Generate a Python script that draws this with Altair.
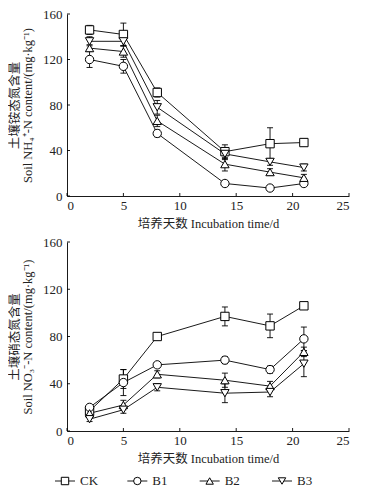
import altair as alt
import pandas as pd

# ---- data ----
days = [2, 5, 8, 14, 18, 21]
series = ["CK", "B1", "B2", "B3"]

nh4_ck = [146, 142, 91, 39, 46, 47]
nh4_b1 = [120, 114, 55, 11, 7, 11]
nh4_b2 = [130, 127, 66, 28, 21, 16]
nh4_b3 = [136, 136, 78, 37, 30, 25]
nh4_ck_err = [4, 10, 4, 6, 14, 3]
nh4_b1_err = [7, 6, 3, 2, 2, 2]
nh4_b2_err = [3, 5, 5, 6, 3, 3]
nh4_b3_err = [4, 4, 6, 5, 3, 3]

no3_ck = [17, 44, 80, 97, 89, 106]
no3_b1 = [20, 41, 56, 60, 52, 78]
no3_b2 = [15, 22, 48, 43, 38, 67]
no3_b3 = [10, 18, 37, 32, 33, 57]
no3_ck_err = [2, 8, 2, 8, 10, 2]
no3_b1_err = [2, 11, 2, 3, 3, 10]
no3_b2_err = [2, 4, 3, 6, 4, 4]
no3_b3_err = [2, 3, 3, 8, 4, 11]

x_ticks = [0, 5, 10, 15, 20, 25]
y_ticks = [0, 40, 80, 120, 160]

shapes = ["square", "circle", "triangle-up", "triangle-down"]

FONT = "Liberation Serif, Noto Sans CJK SC"
W = 282


def long_df(vals, errs):
    rows = []
    for s, v, e in zip(series, vals, errs):
        for d, vv, ee in zip(days, v, e):
            rows.append({"day": d, "series": s, "value": vv,
                         "lo": vv - ee, "hi": vv + ee})
    return pd.DataFrame(rows)


def panel(df, ytitle, H):
    xs = alt.Scale(domain=[0, 25], nice=False)
    ys = alt.Scale(domain=[0, 160], nice=False)
    xax = alt.Axis(values=x_ticks, title="培养天数 Incubation time/d",
                   ticks=False, grid=False, labelPadding=3, titlePadding=5)
    yax = alt.Axis(values=y_ticks, title=ytitle, ticks=False, grid=False,
                   labelPadding=5, titlePadding=8)
    base = alt.Chart(df)
    x = alt.X("day:Q", scale=xs, axis=xax)
    y = alt.Y("value:Q", scale=ys, axis=yax)

    stems = base.mark_rule(color="black", strokeWidth=0.9).encode(
        x=alt.X("day:Q", scale=xs), y=alt.Y("lo:Q", scale=ys), y2="hi:Q")
    cap_lo = base.mark_rule(color="black", strokeWidth=0.9, xOffset=-3,
                            x2Offset=3).encode(
        x=alt.X("day:Q", scale=xs), x2="day:Q", y=alt.Y("lo:Q", scale=ys))
    cap_hi = base.mark_rule(color="black", strokeWidth=0.9, xOffset=-3,
                            x2Offset=3).encode(
        x=alt.X("day:Q", scale=xs), x2="day:Q", y=alt.Y("hi:Q", scale=ys))
    lines = base.mark_line(color="black", strokeWidth=0.9).encode(
        x=x, y=y, detail="series:N")
    pts = base.mark_point(filled=True, fill="white", stroke="black",
                          strokeWidth=1, size=70, opacity=1).encode(
        x=x, y=y,
        shape=alt.Shape("series:N", scale=alt.Scale(domain=series, range=shapes),
                        legend=None))

    yt = pd.DataFrame({"v": y_ticks})
    xt = pd.DataFrame({"v": x_ticks})
    ytick = alt.Chart(yt).mark_rule(color="black", strokeWidth=0.9).encode(
        y=alt.Y("v:Q", scale=ys), x=alt.value(0), x2=alt.value(3))
    xtick = alt.Chart(xt).mark_rule(color="black", strokeWidth=0.9).encode(
        x=alt.X("v:Q", scale=xs), y=alt.value(H), y2=alt.value(H - 3))

    return alt.layer(stems, cap_lo, cap_hi, lines, pts, ytick, xtick).properties(
        width=W, height=H)


top = panel(long_df([nh4_ck, nh4_b1, nh4_b2, nh4_b3],
                    [nh4_ck_err, nh4_b1_err, nh4_b2_err, nh4_b3_err]),
            ["土壤铵态氮含量", "Soil NH₄⁺-N content/(mg·kg⁻¹)"], 182)
bottom = panel(long_df([no3_ck, no3_b1, no3_b2, no3_b3],
                       [no3_ck_err, no3_b1_err, no3_b2_err, no3_b3_err]),
               ["土壤硝态氮含量", "Soil NO₃⁻-N content/(mg·kg⁻¹)"], 189)

leg_df = pd.DataFrame({"i": list(range(len(series))), "series": series})
lx = alt.Scale(domain=[0, 3], range=[-2, 215])
lbase = alt.Chart(leg_df)
lrule = lbase.mark_rule(color="black", strokeWidth=0.9, xOffset=-10,
                        x2Offset=10).encode(
    x=alt.X("i:Q", scale=lx, axis=None), x2="i:Q", y=alt.value(10))
lpts = lbase.mark_point(filled=True, fill="white", stroke="black",
                        strokeWidth=1, size=55, opacity=1).encode(
    x=alt.X("i:Q", scale=lx, axis=None), y=alt.value(10),
    shape=alt.Shape("series:N", scale=alt.Scale(domain=series, range=shapes),
                    legend=None))
ltext = lbase.mark_text(align="left", dx=15, font=FONT, fontSize=13,
                        color="#222").encode(
    x=alt.X("i:Q", scale=lx, axis=None), y=alt.value(10), text="series:N")
legend = alt.layer(lrule, lpts, ltext).properties(width=W, height=20)

chart = alt.vconcat(top, bottom, legend, spacing=6).properties(
    padding={"left": 0, "top": 0, "right": 0, "bottom": 0}
).configure_view(strokeWidth=0).configure_axis(
    domainColor="black", domainWidth=0.9,
    labelFont=FONT, labelFontSize=13, labelColor="#222",
    titleFont=FONT, titleFontSize=12.5, titleColor="#222",
    titleFontWeight="normal", titleLineHeight=13,
)

chart.save("out.html", embed_options={"renderer": "svg", "actions": False})
